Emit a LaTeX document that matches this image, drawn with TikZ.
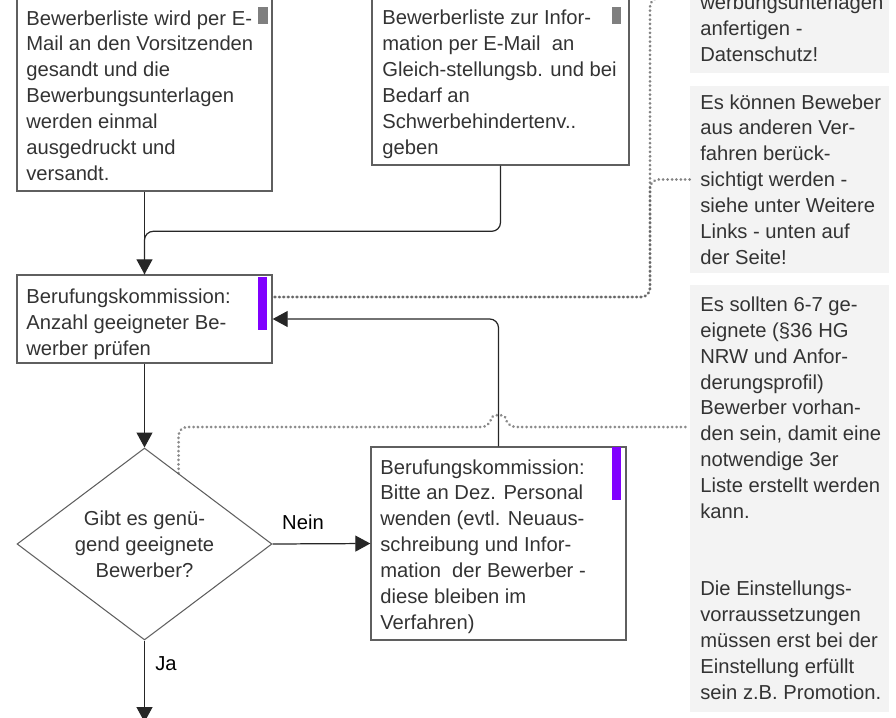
\documentclass[tikz,border=0pt]{standalone}
\usepackage{fontspec}
\setmainfont{Liberation Sans}
\usetikzlibrary{arrows.meta}
\usetikzlibrary{shapes.geometric}
\usetikzlibrary{fit}
\usetikzlibrary{calc}

\definecolor{schrift}{HTML}{333333}
\definecolor{rahmen}{HTML}{5F5F5F}
\definecolor{notiz}{HTML}{F3F3F3}
\definecolor{lila}{HTML}{8000FF}
\definecolor{grau}{HTML}{7F7F7F}
\definecolor{punkt}{HTML}{5A5A5A}

\newcommand{\zeile}{14.7pt}

\tikzset{
  schritt/.style={draw=rahmen,line width=0.8pt,inner sep=0pt},
  hinweis/.style={fill=notiz,inner sep=0pt},
  absatz/.style={anchor=base west,align=left,inner sep=0pt,text=schrift,font=\fontsize{11.5}{\zeile}\selectfont},
  fluss/.style={draw=black!85,line width=0.7pt,-{Triangle[width=0.32cm,length=0.3cm]}},
  linie/.style={draw=black!85,line width=0.7pt},
  punktiert/.style={draw=punkt,line width=1.7pt,dash pattern=on 0.01pt off 2.5pt,line cap=round},
}

\begin{document}
\begin{tikzpicture}[x=0.02cm,y=-0.02cm]
		% Ausschnitt festlegen
		\useasboundingbox (0,0) rectangle (896,717);
		\clip (0,0) rectangle (896,717);

		% Hinweise rechts (Texte sitzen auf der Grundlinie ihrer letzten Zeile)
		\node[hinweis,fit={(690,-40) (889,73)}] (notiz1) {};
		\node[hinweis,fit={(690,86) (889,273)}] (notiz2) {};
		\node[hinweis,fit={(690,285) (889,712)}] (notiz3) {};
		\node[absatz] (notiz1-text) at (700,61) {werbungsunterlagen\\anfertigen -\\Datenschutz!};
		\node[absatz] (notiz2-text) at (700,264) {Es können Beweber\\aus anderen Ver-\\fahren berück-\\sichtigt werden -\\siehe unter Weitere\\Links - unten auf\\der Seite!};
		\node[absatz] (notiz3-text) at (700,699) {Es sollten 6-7 ge-\\eignete (§36 HG\\NRW und Anfor-\\derungsprofil)\\Bewerber vorhan-\\den sein, damit eine\\notwendige 3er\\Liste erstellt werden\\kann.\\[29.4pt]Die Einstellungs-\\vorraussetzungen\\müssen erst bei der\\Einstellung erfüllt\\sein z.B. Promotion.};

		% Schritte
		\node[schritt,fit={(17,-20) (272,191)}] (liste) {};
		\node[schritt,fit={(372,-20) (629,165)}] (info) {};
		\node[schritt,fit={(17,275) (272,363)}] (pruefen) {};
		\node[schritt,fit={(371,447) (626,640)}] (bitte) {};
		\node[diamond,draw=rahmen,line width=0.6pt,minimum width=5.1cm,minimum height=3.84cm,aspect=1.33,inner sep=0pt,align=center,text=schrift,font=\fontsize{11.5}{\zeile}\selectfont] (frage) at (144.5,544) {Gibt es genü-\\gend geeignete\\Bewerber?};

		\fill[grau] (258,7) rectangle (268,24);
		\fill[grau] (612,7) rectangle (621,24);
		\fill[lila] (258,277) rectangle (267,330);
		\fill[lila] (612,447) rectangle (621,500);

		\node[absatz] (liste-text) at (26,180) {Bewerberliste wird per E-\\Mail an den Vorsitzenden\\gesandt und die\\Bewerbungsunterlagen\\werden einmal\\ausgedruckt und\\versandt.};
		\node[absatz] (info-text) at (382,154) {Bewerberliste zur Infor-\\mation per E-Mail\ \ an\\Gleich-stellungsb. und bei\\Bedarf an\\Schwerbehindertenv..\\geben};
		\node[absatz] (pruefen-text) at (26,355) {Berufungskommission:\\Anzahl geeigneter Be-\\werber prüfen};
		\node[absatz] (bitte-text) at (380,629) {Berufungskommission:\\Bitte an Dez. Personal\\wenden (evtl. Neuaus-\\schreibung und Infor-\\mation\ \ der Bewerber -\\diese bleiben im\\Verfahren)};

		\node[absatz,anchor=base,text=black] (nein) at (303,529) {Nein};
		\node[absatz,text=black] (ja) at (155,670) {Ja};

		% Verbindungen
		\coordinate (knick) at (650,297);
		\coordinate (weiter) at (144.5,722);
		\draw[punktiert,draw opacity=0.75,rounded corners=5pt] (notiz1.west |- 0,-2) -| (knick) -- (pruefen.east |- knick);
		\draw[punktiert,draw opacity=0.75,rounded corners=5pt] (notiz2.west) -| (knick) -- (pruefen.east |- knick);
		\draw[punktiert,draw opacity=0.7,rounded corners=5pt] ($(frage.north)!0.266!(frage.east)$) |- (490,427) .. controls (492,414) and (505,414) .. (507,427) -- (notiz3.west |- 0,427);

		\draw[fluss] (liste.south) -- (pruefen.north);
		\draw[linie,rounded corners=5pt] (info.south) |- ($(pruefen.north)+(0,-43)$) -- (pruefen.north);
		\draw[fluss] (pruefen.south) -- (frage.north);
		\draw[fluss] (frage.east) -- (bitte.west);
		\draw[fluss] (frage.south) -- (weiter);
		\draw[fluss,rounded corners=5pt] (bitte.north) |- (pruefen.east);
	\end{tikzpicture}
\end{document}
